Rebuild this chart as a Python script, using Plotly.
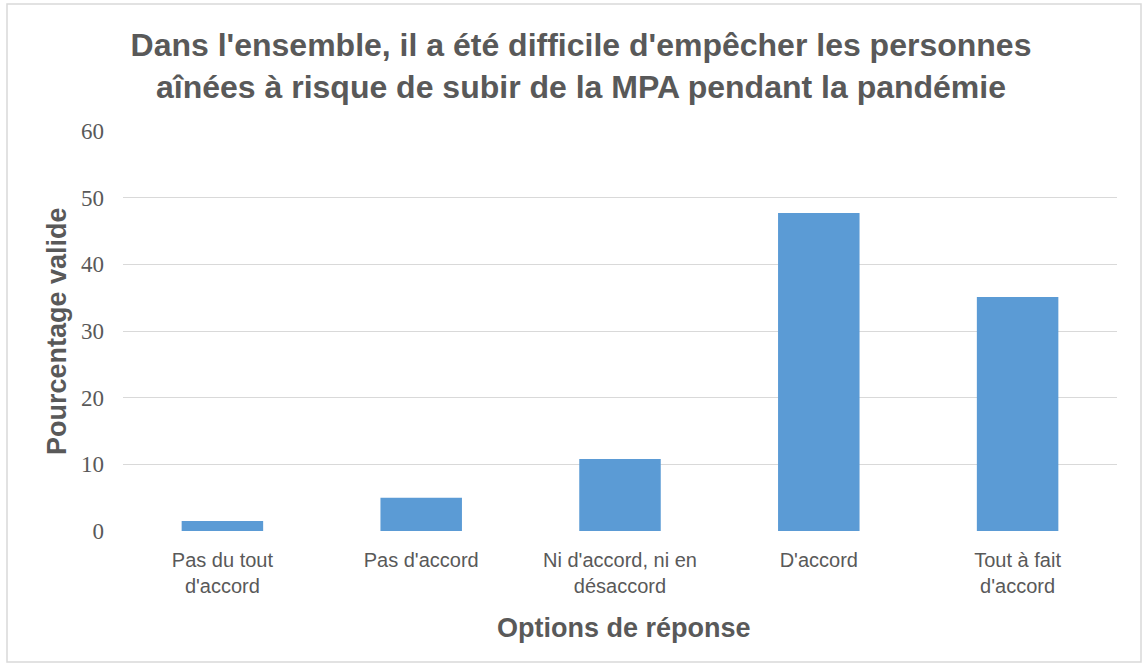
import plotly.graph_objects as go

categories = ["Pas du tout<br>d'accord", "Pas d'accord", "Ni d'accord, ni en<br>désaccord", "D'accord", "Tout à fait<br>d'accord"]
values = [1.5, 5.0, 10.8, 47.7, 35.1]
y_ticks = [0, 10, 20, 30, 40, 50, 60]

title_text = "Dans l'ensemble, il a été difficile d'empêcher les personnes<br>aînées à risque de subir de la MPA pendant la pandémie"
x_title = "Options de réponse"
y_title = "Pourcentage valide"

W, H = 1145, 664
L, R, T, B = 123, 28, 131, 133
pw, ph = W - L - R, H - T - B

def px_x(px):
    return (px - L) / pw

def px_y(py):
    return (H - B - py) / ph

grey = "#595959"

fig = go.Figure(go.Bar(x=categories, y=values, marker_color="#5b9bd5",
                       marker_line_width=0, width=0.41))

fig.update_layout(
    width=W, height=H,
    margin=dict(l=L, r=R, t=T, b=B),
    paper_bgcolor="white", plot_bgcolor="white",
    showlegend=False,
    bargap=0.59,
    title=dict(text=title_text, x=581 / W, xref="container", xanchor="center",
               y=1 - 56 / H, yref="container", yanchor="middle",
               font=dict(family="Liberation Sans, Arial", size=32, color=grey, weight="bold")),
    xaxis=dict(showgrid=False, zeroline=False, showline=False,
               tickfont=dict(family="Liberation Sans, Arial", size=20, color=grey),
               ticks="outside", ticklen=11, tickcolor="rgba(0,0,0,0)"),
    yaxis=dict(range=[0, 60], tickvals=y_ticks, showgrid=True, gridcolor="#d9d9d9",
               gridwidth=1.3, zeroline=False, showline=False,
               tickfont=dict(family="Liberation Serif, Times New Roman", size=23, color=grey),
               ticklabelstandoff=18),
    shapes=[dict(type="rect", xref="paper", yref="paper",
                 x0=px_x(7), x1=px_x(1141), y0=px_y(662), y1=px_y(4),
                 line=dict(color="#d9d9d9", width=1.5), fillcolor="rgba(0,0,0,0)", layer="below")],
    annotations=[
        dict(text=y_title, xref="paper", yref="paper", x=px_x(57), y=px_y(331),
             textangle=-90, showarrow=False, xanchor="center", yanchor="middle",
             font=dict(family="Liberation Sans, Arial", size=27, color=grey, weight="bold")),
        dict(text=x_title, xref="paper", yref="paper", x=px_x(624), y=px_y(628),
             showarrow=False, xanchor="center", yanchor="middle",
             font=dict(family="Liberation Sans, Arial", size=27, color=grey, weight="bold")),
    ],
)

fig.write_html("out.html", config={"displayModeBar": False},
               post_script="document.body.style.margin='0';")
